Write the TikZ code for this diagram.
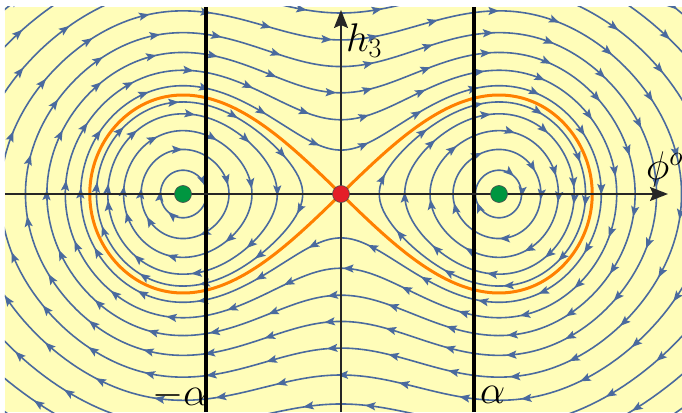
\RequirePackage{fix-cm}
\documentclass[tikz,border=0pt]{standalone}
\usetikzlibrary{arrows.meta,decorations.markings}
\definecolor{bgyellow}{RGB}{255,253,185}
\definecolor{streamblue}{RGB}{74,106,158}
\definecolor{seporange}{RGB}{255,128,0}
\definecolor{cgreen}{RGB}{0,150,64}
\definecolor{sred}{RGB}{228,30,40}
\tikzset{
  stream/.style={color=streamblue, line width=1.6pt,
    postaction={decorate},
    decoration={markings, mark=between positions 0.02 and 1 step 62pt with {\arrow{Stealth[length=10.5pt,width=8pt,inset=2pt]}}}},
  sepline/.style={draw=seporange, line width=3pt},
  alphaline/.style={draw=black, line width=3.5pt},
  axisline/.style={draw=black!85, line width=1.6pt, -{Stealth[length=18pt,width=14pt,inset=3pt]}},
  dotnode/.style={circle, draw=black!70, line width=0.6pt, minimum size=17pt, inner sep=0pt},
  lbl/.style={inner sep=0pt, anchor=base west, font=\fontsize{40}{44}\selectfont}
}
\begin{document}
\begin{tikzpicture}[x=1pt,y=1pt,
  declare function={uu(\q)=sqrt(abs(\q)/(1.209-0.209*\q));}]
\useasboundingbox (-341,-218) rectangle (341,194);
\fill[bgyellow] (-336,-218) rectangle (341,187);
\begin{scope}
\clip (-336,-218) rectangle (341,187);
% closed orbits around the two centres
\foreach \p in {0.24,0.45,0.64,0.81,0.93}{
  \draw[stream] plot[domain=0:360,samples=120,variable=\t]
    ({-158*uu(1+\p*cos(\t))},{99*\p*sin(\t)}) -- cycle;
  \draw[stream] plot[domain=0:360,samples=120,variable=\t]
    ({158*uu(1+\p*cos(\t))},{-99*\p*sin(\t)}) -- cycle;
}
% orbits outside the separatrix
\foreach \p in {1.094,1.25,1.43,1.63,1.85,2.084,2.345,2.6,2.85}{
  \pgfmathsetmacro\thz{acos(-1/\p)}
  \draw[stream] plot[domain=0:1,samples=160,variable=\t]
    ({158*uu(1+\p*cos(\thz*cos(180*\t)))},{99*\p*sin(\thz*cos(180*\t))})
    -- plot[domain=0:1,samples=160,variable=\t]
    ({-158*uu(1+\p*cos(-\thz*cos(180*\t)))},{99*\p*sin(-\thz*cos(180*\t))}) -- cycle;
}
% separatrix
\draw[sepline] plot[domain=0:360,samples=200,variable=\t]
  ({-158*uu(1+cos(\t))},{99*sin(\t)}) -- cycle;
\draw[sepline] plot[domain=0:360,samples=200,variable=\t]
  ({158*uu(1+cos(\t))},{99*sin(\t)}) -- cycle;
\end{scope}
% vertical lines at -alpha and alpha
\coordinate (aLb) at (-135,-218);
\coordinate (aLt) at (-135,187);
\coordinate (aRb) at (133,-218);
\coordinate (aRt) at (133,187);
\draw[alphaline] (aLb) -- (aLt);
\draw[alphaline] (aRb) -- (aRt);
% axes
\coordinate (xl) at (-336,0);
\coordinate (xr) at (327,0);
\coordinate (yb) at (0,-218);
\coordinate (yt) at (0,184);
\draw[axisline] (xl) -- (xr);
\draw[axisline] (yb) -- (yt);
% fixed points
\node[dotnode, fill=cgreen] (cl) at (-158,0) {};
\node[dotnode, fill=cgreen] (cr) at (158,0) {};
\node[dotnode, fill=sred] (sd) at (0,0) {};
% labels
\node[lbl] (hlab) at (5,142) {$h_3$};
\node[lbl] (philab) at (305,14) {$\phi^o$};
\node[lbl] (malab) at (-189,-211) {$-\alpha$};
\node[lbl] (alab) at (139,-209) {$\alpha$};
\end{tikzpicture}
\end{document}
